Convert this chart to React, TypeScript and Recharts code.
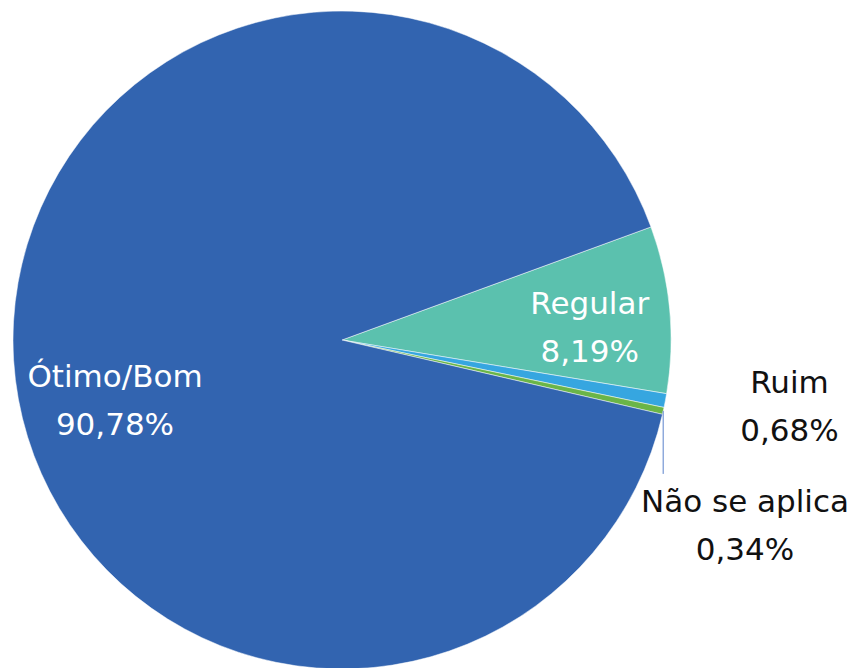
import React from "react";
import { PieChart, Pie, Cell } from "recharts";

const categories = ["Regular", "Ruim", "Não se aplica", "Ótimo/Bom"];
const values = [8.19, 0.68, 0.34, 90.78];
const valueLabels = ["8,19%", "0,68%", "0,34%", "90,78%"];
const colors = ["#5BC1AE", "#36A6E0", "#6AB548", "#3264B0"];
const textColors = ["#ffffff", "#111111", "#111111", "#ffffff"];

const data = categories.map((name, i) => ({ name, value: values[i] }));

// label placement relative to pie center, as fractions of outer radius
const labelLayout: Record<string, { fx: number; fy: number; leader?: boolean }> = {
  "Regular": { fx: 0.753, fy: -0.04 },
  "Ruim": { fx: 1.36, fy: 0.2 },
  "Não se aplica": { fx: 1.225, fy: 0.562, leader: true },
  "Ótimo/Bom": { fx: -0.69, fy: 0.182 },
};

const FONT = "'DejaVu Sans', sans-serif";
const RAD = Math.PI / 180;

const renderLabel = (props: any) => {
  const { cx, cy, outerRadius, midAngle, index } = props;
  const name = categories[index];
  const lay = labelLayout[name];
  const x = cx + outerRadius * lay.fx;
  const y = cy + outerRadius * lay.fy;
  const ex = cx + outerRadius * Math.cos(-midAngle * RAD);
  const ey = cy + outerRadius * Math.sin(-midAngle * RAD);
  return (
    <g key={`lbl-${index}`}>
      {lay.leader && (
        <line x1={ex} y1={ey} x2={ex} y2={y - 51} stroke="#8FAADC" strokeWidth={1.5} />
      )}
      <text
        x={x}
        y={y}
        textAnchor="middle"
        fill={textColors[index]}
        fontFamily={FONT}
        fontSize={31}
      >
        <tspan x={x} dy={-13}>{name}</tspan>
        <tspan x={x} dy={48}>{valueLabels[index]}</tspan>
      </text>
    </g>
  );
};

export default function App() {
  return (
    <PieChart width={845} height={660}>
      <Pie
        data={data}
        dataKey="value"
        nameKey="name"
        cx={329}
        cy={327}
        outerRadius={329}
        startAngle={20.1}
        endAngle={20.1 - 360}
        stroke="#ffffff"
        strokeWidth={0.5}
        label={renderLabel}
        labelLine={false}
        isAnimationActive={false}
      >
        {data.map((d, i) => (
          <Cell key={d.name} fill={colors[i]} />
        ))}
      </Pie>
    </PieChart>
  );
}
